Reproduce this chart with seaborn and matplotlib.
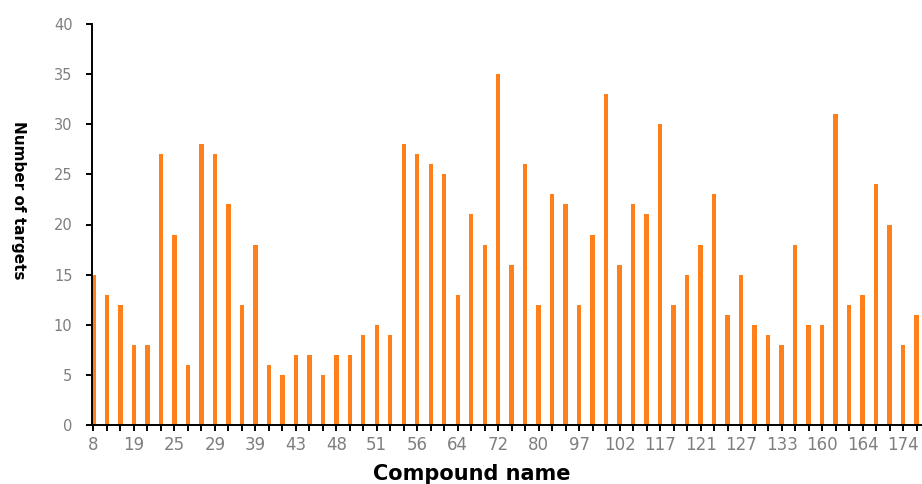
import matplotlib
matplotlib.use("Agg")
import matplotlib.pyplot as plt
import seaborn as sns
import pandas as pd

# Number of targets per compound (bar order as in the chart)
targets = [15, 13, 12, 8, 8, 27, 19, 6, 28, 27, 22, 12, 18, 6, 5, 7, 7, 5, 7, 7,
           9, 10, 9, 28, 27, 26, 25, 13, 21, 18, 35, 16, 26, 12, 23, 22, 12, 19, 33, 16,
           22, 21, 30, 12, 15, 18, 23, 11, 15, 10, 9, 8, 18, 10, 10, 31, 12, 13, 24, 20,
           8, 11]
# Compound names that are shown (every third bar is labelled)
shown_names = ["8", "19", "25", "29", "39", "43", "48", "51", "56", "64", "72",
               "80", "97", "102", "117", "121", "127", "133", "160", "164", "174"]
label_step = 3
y_ticks = [0, 5, 10, 15, 20, 25, 30, 35, 40]

slots = list(range(len(targets)))
df = pd.DataFrame({"slot": slots, "targets": targets})

sns.set_theme(style="ticks")
plt.rcParams["font.family"] = ["DejaVu Sans"]

fig = plt.figure(figsize=(9.22, 4.84), dpi=100)
ax = fig.add_axes([92 / 922, 59 / 484, 1 - 92 / 922, (425 - 24) / 484])

sns.barplot(data=df, x="slot", y="targets", color="#ff7f1a", saturation=1,
            width=0.33, linewidth=0, ax=ax, order=slots)

ax.set_xlim(-0.1, 61.4)
ax.set_ylim(0, 40)
ax.set_yticks(y_ticks)
ax.set_yticklabels([str(v) for v in y_ticks], color="#7f7f7f", fontsize=10.5)

ax.set_xticks(slots)
labels = [""] * len(slots)
for k, name in enumerate(shown_names):
    labels[k * label_step] = name
ax.set_xticklabels(labels, color="#7f7f7f", fontsize=12)

for side in ["top", "right"]:
    ax.spines[side].set_visible(False)
for side in ["left", "bottom"]:
    ax.spines[side].set_color("black")
    ax.spines[side].set_linewidth(1.4)
ax.tick_params(axis="both", direction="out", color="black", width=1.4, length=4)
ax.tick_params(axis="y", pad=10)
ax.tick_params(axis="x", pad=4)
ax.set_xlabel("")
ax.set_ylabel("")

fig.text(472 / 922, 1 - 474 / 484, "Compound name", ha="center", va="center",
         fontsize=15, fontweight="bold", color="black")
fig.text(18 / 922, 1 - 200 / 484, "Number of targets", ha="center", va="center",
         rotation=270, fontsize=11, fontweight="bold", color="black")

fig.savefig("out.png", dpi=100)
